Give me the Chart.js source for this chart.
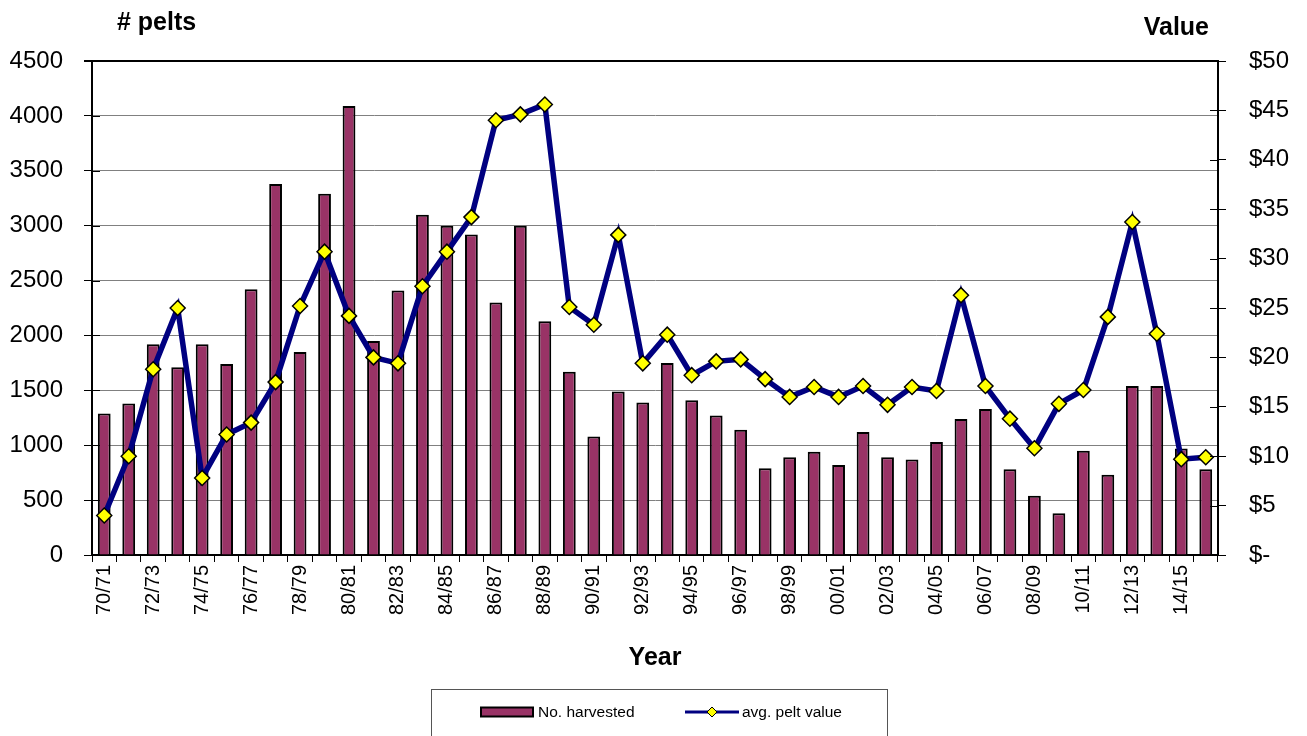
<!DOCTYPE html>
<html>
<head>
<meta charset="utf-8">
<script src="https://cdn.jsdelivr.net/npm/chart.js@4.4.1/dist/chart.umd.min.js"></script>
<style>
  html, body { margin: 0; padding: 0; background: #fff; }
  #wrap { width: 1307px; height: 736px; }
</style>
</head>
<body>
<div id="wrap"><canvas id="peltChart" width="1307" height="736"></canvas></div>
<script>
/* =======================
   ДАННЫЕ
======================= */
const seasons = [
  '70/71', '71/72', '72/73', '73/74', '74/75', '75/76', '76/77', '77/78', '78/79', '79/80',
  '80/81', '81/82', '82/83', '83/84', '84/85', '85/86', '86/87', '87/88', '88/89', '89/90',
  '90/91', '91/92', '92/93', '93/94', '94/95', '95/96', '96/97', '97/98', '98/99', '99/00',
  '00/01', '01/02', '02/03', '03/04', '04/05', '05/06', '06/07', '07/08', '08/09', '09/10',
  '10/11', '11/12', '12/13', '13/14', '14/15', '15/16'
];

const harvested = [
  1290, 1380, 1920, 1710, 1920, 1740, 2420, 3380, 1850, 3290,
  4090, 1950, 2410, 3100, 3000, 2920, 2300, 3000, 2130, 1670,
  1080, 1490, 1390, 1750, 1410, 1270, 1140, 790, 890, 940,
  820, 1120, 890, 870, 1030, 1240, 1330, 780, 540, 380,
  950, 730, 1540, 1540, 970, 780
];

const peltValue = [
  4.0, 10.0, 18.8, 25.0, 7.8, 12.2, 13.4, 17.5, 25.2, 30.7,
  24.2, 20.0, 19.4, 27.2, 30.7, 34.2, 44.0, 44.6, 45.6, 25.1,
  23.3, 32.4, 19.4, 22.3, 18.2, 19.6, 19.8, 17.8, 16.0, 17.0,
  16.0, 17.1, 15.2, 17.0, 16.6, 26.3, 17.1, 13.8, 10.8, 15.3,
  16.7, 24.1, 33.7, 22.4, 9.7, 9.9
];

const FONT = 'Arial, "Liberation Sans", sans-serif';
const PLUM = '#993366';
const NAVY = '#000080';

/* =======================
   ПОДПИСИ ОСЕЙ, ЛЕГЕНДА, ЗАСЕЧКИ
======================= */
const extras = {
  id: 'extras',
  afterDraw(chart) {
    const ctx = chart.ctx;
    const area = chart.chartArea;
    const ds = chart.data.datasets;
    ctx.save();
    ctx.fillStyle = '#000';
    ctx.font = 'bold 25px ' + FONT;
    ctx.textBaseline = 'middle';
    ctx.textAlign = 'left';
    ctx.fillText('# pelts', 117, 23);
    ctx.textAlign = 'right';
    ctx.fillText('Value', 1209, 28);

    // рамка легенды
    ctx.strokeStyle = '#555';
    ctx.lineWidth = 1;
    ctx.strokeRect(431.5, 689.5, 456, 60);

    // легенда: столбцы
    const ly = 712;
    ctx.fillStyle = ds[0].backgroundColor;
    ctx.fillRect(481, ly - 4.5, 52, 9);
    ctx.strokeStyle = '#000';
    ctx.lineWidth = 2;
    ctx.strokeRect(481, ly - 4.5, 52, 9);

    // легенда: линия
    ctx.strokeStyle = ds[1].borderColor;
    ctx.lineWidth = 3;
    ctx.beginPath(); ctx.moveTo(685, ly); ctx.lineTo(739, ly); ctx.stroke();
    ctx.beginPath();
    ctx.moveTo(712, ly - 5); ctx.lineTo(717, ly); ctx.lineTo(712, ly + 5); ctx.lineTo(707, ly);
    ctx.closePath();
    ctx.fillStyle = ds[1].pointBackgroundColor;
    ctx.fill();
    ctx.strokeStyle = '#000';
    ctx.lineWidth = 1;
    ctx.stroke();

    ctx.fillStyle = '#000';
    ctx.font = '15.5px ' + FONT;
    ctx.textAlign = 'left';
    ctx.fillText(ds[0].label, 538, ly + 1);
    ctx.fillText(ds[1].label, 742, ly + 1);

    // засечки левой и правой осей внутрь
    ctx.strokeStyle = '#000';
    ctx.lineWidth = 1;
    const y = chart.scales.y, y2 = chart.scales.y2;
    y.ticks.forEach(t => {
      const py = Math.round(y.getPixelForValue(t.value)) + 0.5;
      ctx.beginPath(); ctx.moveTo(area.left, py); ctx.lineTo(area.left + 8, py); ctx.stroke();
    });
    y2.ticks.forEach(t => {
      const py = Math.round(y2.getPixelForValue(t.value)) + 0.5;
      ctx.beginPath(); ctx.moveTo(area.right - 8, py); ctx.lineTo(area.right, py); ctx.stroke();
    });
    ctx.restore();
  }
};

/* =======================
   ГРАФИК
======================= */
function buildChart() {
  new Chart(document.getElementById('peltChart'), {
    data: {
      labels: seasons,
      datasets: [
        {
          type: 'bar',
          label: 'No. harvested',
          data: harvested,
          backgroundColor: PLUM,
          borderColor: '#000',
          borderWidth: 2,
          barPercentage: 0.55,
          categoryPercentage: 0.95,
          yAxisID: 'y',
          order: 2
        },
        {
          type: 'line',
          label: 'avg. pelt value',
          data: peltValue,
          borderColor: NAVY,
          borderWidth: 5.5,
          pointStyle: 'rectRot',
          pointRadius: 7.5,
          pointBackgroundColor: '#ffff00',
          pointBorderColor: '#000',
          pointBorderWidth: 1.5,
          tension: 0,
          yAxisID: 'y2',
          order: 1
        }
      ]
    },
    options: {
      responsive: false,
      animation: false,
      layout: { padding: { top: 61, left: 0, right: 0, bottom: 0 } },
      plugins: {
        tooltip: { enabled: false },
        legend: { display: false }
      },
      scales: {
        x: {
          offset: true,
          grid: {
            offset: true,
            drawOnChartArea: false,
            tickLength: 7,
            tickColor: '#000'
          },
          border: { color: '#000', width: 2 },
          ticks: {
            autoSkip: false,
            minRotation: 90,
            maxRotation: 90,
            padding: 3,
            color: '#000',
            font: { family: FONT, size: 20 },
            callback(v, i) { return i % 2 === 0 ? seasons[i] : ''; }
          },
          title: {
            display: true,
            text: 'Year',
            color: '#000',
            font: { family: FONT, size: 25, weight: 'bold' },
            padding: { top: 10, bottom: 63 }
          },
          afterFit(scale) { scale.height = 181; }
        },
        y: {
          position: 'left',
          min: 0,
          max: 4500,
          ticks: {
            stepSize: 500,
            padding: 21,
            color: '#000',
            font: { family: FONT, size: 24 },
            callback: v => String(v)
          },
          grid: {
            color: ctx => ctx.tick && ctx.tick.value === 4500 ? '#000' : '#808080',
            lineWidth: ctx => ctx.tick && ctx.tick.value === 4500 ? 2 : 1,
            tickColor: '#000',
            tickLength: 8
          },
          border: { color: '#000', width: 2 },
          afterFit(scale) { scale.width = 92; }
        },
        y2: {
          position: 'right',
          min: 0,
          max: 50,
          ticks: {
            stepSize: 5,
            padding: 23,
            color: '#000',
            font: { family: FONT, size: 24 },
            callback: v => v === 0 ? '$-' : '$' + v
          },
          grid: {
            drawOnChartArea: false,
            tickColor: '#000',
            tickLength: 8
          },
          border: { color: '#000', width: 2 },
          afterFit(scale) { scale.width = 89; }
        }
      }
    },
    plugins: [extras]
  });
}

/* =======================
   INIT
======================= */
buildChart();
</script>
</body>
</html>
